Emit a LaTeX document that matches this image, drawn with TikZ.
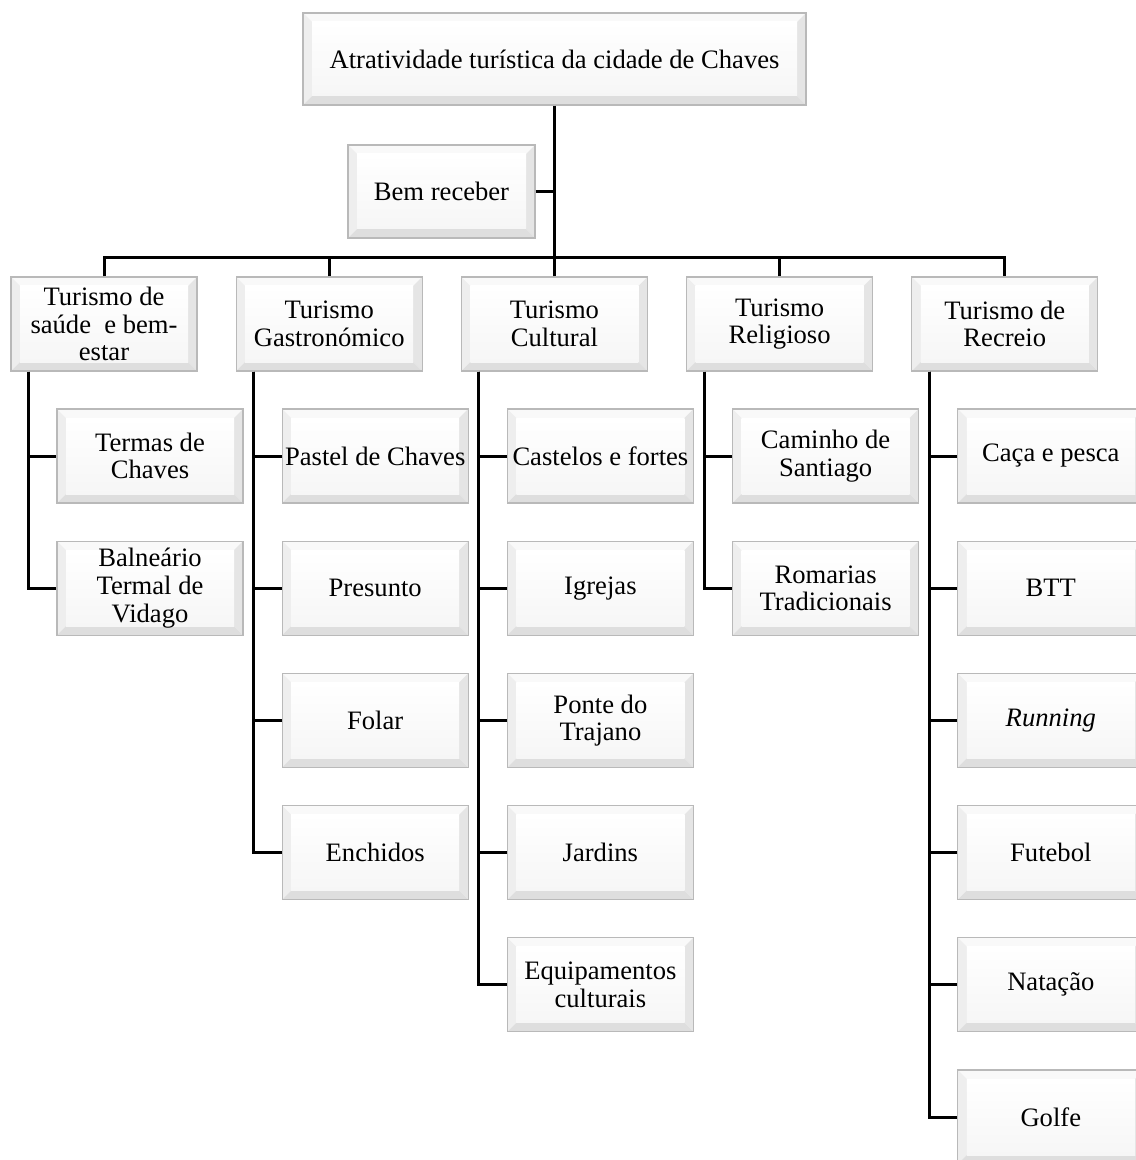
\documentclass[tikz,border=0pt]{standalone}
\usepackage{fontspec}
\setmainfont{Liberation Serif}
\usetikzlibrary{positioning}

\tikzset{
	bevel/.style={path picture={
		\fill[gray!5] (path picture bounding box.north west) -- (path picture bounding box.north east) -- ++(-4.5pt,-4.5pt) -- ([shift={(4.5pt,-4.5pt)}]path picture bounding box.north west) -- cycle;
		\fill[gray!13] (path picture bounding box.north west) -- (path picture bounding box.south west) -- ++(4.5pt,4.5pt) -- ([shift={(4.5pt,-4.5pt)}]path picture bounding box.north west) -- cycle;
		\fill[gray!20] (path picture bounding box.north east) -- (path picture bounding box.south east) -- ++(-4.5pt,4.5pt) -- ([shift={(-4.5pt,-4.5pt)}]path picture bounding box.north east) -- cycle;
		\fill[gray!26] (path picture bounding box.south west) -- (path picture bounding box.south east) -- ++(-4.5pt,4.5pt) -- ([shift={(4.5pt,4.5pt)}]path picture bounding box.south west) -- cycle;
		\shade[top color=white, bottom color=gray!7] ([shift={(4.5pt,4.5pt)}]path picture bounding box.south west) rectangle ([shift={(-4.5pt,-4.5pt)}]path picture bounding box.north east);
	}},
	bevelbox/.style={draw=gray!55, line width=0.6pt, bevel, align=center, inner sep=0.5pt,
		font=\fontsize{13.3}{13.8}\selectfont},
	topicbox/.style={bevelbox, minimum width=93pt, minimum height=47pt},
	itembox/.style={bevelbox, minimum width=93pt, minimum height=47pt},
	link/.style={line width=1.5pt}
}

\begin{document}
\begin{tikzpicture}[x=0.5pt,y=-0.5pt]
	\useasboundingbox (0,0) rectangle (1135,1160);
	% root and welcome
	\node[bevelbox, minimum width=251.5pt, minimum height=46pt] (root) at (554.5,59) {Atratividade turística da cidade de Chaves};
	\node[bevelbox, minimum width=93.5pt, minimum height=46.5pt] (bem) at (441.5,191.5) {Bem receber};
	\coordinate (bus) at (554.5,258);

	% tourism types
	\node[topicbox] (saude) at (104,324) {Turismo de\\saúde\ \ e bem-\\estar};
	\node[topicbox] (gastro) at (329.2,324) {Turismo\\Gastronómico};
	\node[topicbox] (cult) at (554.4,324) {Turismo\\Cultural};
	\node[topicbox] (relig) at (779.6,324) {Turismo\\Religioso};
	\node[topicbox] (recr) at (1004.8,324) {Turismo de\\Recreio};

	% saude
	\node[itembox] (termas) at (150,456) {Termas de\\Chaves};
	\node[itembox] (vidago) at (150,588.2) {Balneário\\Termal de\\Vidago};
	% gastronomia
	\node[itembox] (pastel) at (375.2,456) {Pastel de Chaves};
	\node[itembox] (presunto) at (375.2,588.2) {Presunto};
	\node[itembox] (folar) at (375.2,720.4) {Folar};
	\node[itembox] (enchidos) at (375.2,852.6) {Enchidos};
	% cultura
	\node[itembox] (castelos) at (600.4,456) {Castelos e fortes};
	\node[itembox] (igrejas) at (600.4,588.2) {Igrejas};
	\node[itembox] (ponte) at (600.4,720.4) {Ponte do\\Trajano};
	\node[itembox] (jardins) at (600.4,852.6) {Jardins};
	\node[itembox] (equip) at (600.4,984.8) {Equipamentos\\culturais};
	% religiao
	\node[itembox] (caminho) at (825.6,456) {Caminho de\\Santiago};
	\node[itembox] (romarias) at (825.6,588.2) {Romarias\\Tradicionais};
	% recreio
	\node[itembox] (caca) at (1050.8,456) {Caça e pesca};
	\node[itembox] (btt) at (1050.8,588.2) {BTT};
	\node[itembox] (running) at (1050.8,720.4) {\itshape Running};
	\node[itembox] (futebol) at (1050.8,852.6) {Futebol};
	\node[itembox] (natacao) at (1050.8,984.8) {Natação};
	\node[itembox] (golfe) at (1050.8,1117) {Golfe};

	% connectors
	\draw[link] (root.south) -- (bus);
	\draw[link] (bem.east) -- (bem.east -| root.south);
	\draw[link] (saude.north) |- (bus) -| (recr.north);
	\draw[link] (gastro.north) -- (gastro.north |- bus);
	\draw[link] (cult.north) -- (cult.north |- bus);
	\draw[link] (relig.north) -- (relig.north |- bus);

	\foreach \parent/\items in {saude/{termas,vidago}, gastro/{pastel,presunto,folar,enchidos},
		cult/{castelos,igrejas,ponte,jardins,equip}, relig/{caminho,romarias},
		recr/{caca,btt,running,futebol,natacao,golfe}}{
		\foreach \item in \items
			\draw[link] ([xshift=9pt]\parent.south west) |- (\item.west);
	}
\end{tikzpicture}
\end{document}
